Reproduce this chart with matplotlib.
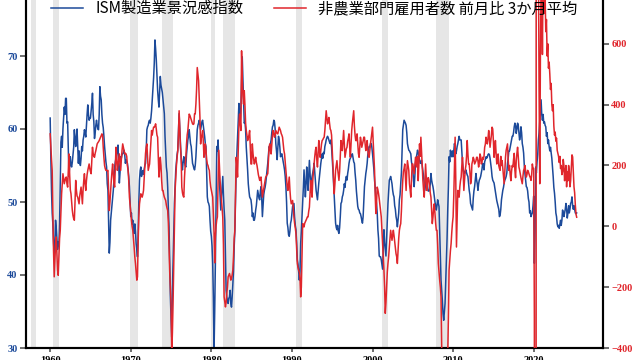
import matplotlib
matplotlib.use("Agg")
import matplotlib.pyplot as plt
import numpy as np
import pandas as pd

# ISM manufacturing PMI, monthly from 1960-01 (one row per year)
ism_rows = [
    [61.5, 56.0, 51.5, 48.5, 47.0, 44.5, 42.7, 44.0, 47.5, 46.5, 45.0, 43.5],  # 1960
    [44.5, 43.9, 47.0, 52.5, 58.2, 59.0, 57.5, 60.0, 61.5, 63.0, 62.0, 64.2],
    [64.2, 60.8, 61.0, 57.0, 53.5, 55.0, 56.2, 55.0, 54.8, 55.5, 56.5, 57.5],
    [59.9, 58.5, 57.6, 59.0, 60.0, 57.5, 55.3, 57.0, 55.5, 55.0, 56.0, 57.6],
    [57.0, 58.5, 59.0, 59.9, 59.5, 58.9, 60.5, 62.0, 63.3, 62.0, 61.2, 61.5],
    [61.5, 62.5, 63.5, 64.9, 62.0, 61.0, 58.7, 59.5, 60.5, 61.2, 60.5, 60.0],  # 1965
    [59.9, 62.0, 65.8, 64.5, 64.0, 62.0, 60.8, 60.2, 59.0, 57.6, 56.5, 55.5],
    [54.8, 52.5, 51.6, 47.0, 43.0, 44.5, 47.5, 48.5, 49.5, 50.5, 51.6, 53.0],
    [54.8, 55.5, 56.0, 56.6, 57.0, 57.8, 55.0, 52.6, 54.0, 56.2, 56.0, 56.5],
    [56.6, 56.8, 57.1, 56.5, 55.3, 55.8, 55.5, 55.3, 54.5, 53.5, 52.1, 50.0],
    [48.0, 48.5, 47.0, 47.5, 46.5, 45.7, 47.0, 46.0, 44.3, 43.5, 42.5, 45.5],  # 1970
    [50.0, 53.0, 54.3, 54.8, 53.5, 54.0, 54.3, 53.8, 54.5, 55.0, 55.3, 57.0],
    [59.9, 60.3, 60.5, 61.0, 61.2, 60.8, 61.5, 62.5, 64.0, 65.3, 67.0, 69.0],
    [72.2, 71.0, 69.5, 67.5, 65.3, 64.0, 63.0, 65.0, 67.2, 66.0, 65.5, 65.0],
    [64.0, 63.0, 62.1, 59.0, 57.0, 54.8, 54.0, 52.0, 49.0, 46.6, 42.0, 37.0],
    [34.0, 31.5, 38.0, 41.6, 46.0, 49.8, 52.0, 54.4, 55.5, 56.5, 57.1, 59.5],  # 1975
    [62.1, 60.0, 58.0, 56.2, 55.0, 54.4, 55.5, 56.2, 55.5, 55.0, 54.8, 56.5],
    [57.5, 58.5, 59.0, 59.9, 59.0, 58.0, 57.6, 56.5, 55.3, 55.0, 54.6, 54.4],
    [55.0, 56.2, 58.0, 59.9, 60.5, 60.8, 61.2, 60.5, 59.9, 60.5, 61.0, 61.2],
    [60.5, 59.9, 59.0, 58.0, 57.6, 54.0, 50.7, 50.0, 49.8, 49.4, 47.5, 46.0],
    [45.3, 44.0, 41.6, 37.0, 29.5, 35.0, 41.6, 50.0, 57.6, 57.0, 58.5, 56.0],  # 1980
    [53.0, 51.0, 48.9, 50.5, 52.0, 53.5, 51.0, 49.0, 47.5, 43.0, 37.9, 37.0],
    [36.5, 36.1, 36.8, 37.0, 37.9, 36.1, 35.6, 37.0, 38.9, 40.5, 43.9, 46.0],
    [50.0, 54.4, 56.5, 58.5, 61.0, 63.5, 62.5, 61.2, 63.0, 66.5, 69.9, 67.0],
    [64.4, 60.8, 61.0, 59.9, 57.5, 56.0, 54.4, 52.5, 51.5, 50.7, 50.5, 50.3],
    [49.5, 48.0, 48.5, 47.5, 47.5, 48.0, 48.9, 49.5, 50.5, 51.6, 51.0, 50.5],  # 1985
    [50.3, 51.5, 52.1, 50.5, 48.0, 49.5, 51.0, 51.6, 52.0, 52.6, 53.5, 54.5],
    [55.3, 56.5, 57.6, 57.5, 58.0, 58.5, 59.5, 60.3, 60.5, 61.2, 61.0, 60.0],
    [58.0, 57.0, 55.8, 57.5, 59.0, 58.5, 57.5, 56.2, 56.5, 56.6, 56.0, 55.5],
    [55.0, 54.4, 53.5, 52.1, 50.0, 47.1, 46.5, 45.5, 45.3, 46.0, 47.1, 47.5],
    [48.5, 49.4, 49.6, 49.8, 48.0, 46.8, 46.2, 44.5, 42.1, 41.5, 40.5, 39.3],  # 1990
    [40.5, 44.3, 46.0, 48.0, 49.8, 52.0, 54.4, 52.5, 50.7, 52.5, 54.8, 53.0],
    [51.6, 53.5, 55.7, 54.0, 52.1, 52.8, 53.5, 54.0, 54.5, 55.3, 54.0, 52.5],
    [51.6, 51.0, 50.3, 51.5, 52.6, 53.5, 54.5, 55.3, 56.0, 56.6, 56.0, 56.8],
    [56.6, 57.6, 58.0, 58.5, 58.8, 59.0, 58.8, 58.5, 58.2, 58.0, 58.5, 57.5],
    [56.0, 54.4, 52.5, 50.7, 48.5, 47.1, 46.5, 46.2, 46.8, 46.0, 45.7, 46.5],  # 1995
    [48.0, 49.8, 50.0, 50.7, 51.0, 51.6, 52.5, 52.0, 53.0, 53.5, 53.0, 53.9],
    [54.5, 55.3, 55.8, 56.0, 56.2, 56.5, 56.6, 56.0, 55.5, 55.3, 54.0, 53.0],
    [51.5, 50.5, 49.4, 49.0, 48.9, 48.5, 48.4, 48.0, 47.5, 47.1, 48.0, 50.0],
    [52.1, 53.0, 53.9, 54.5, 55.3, 56.5, 57.0, 57.6, 57.5, 58.0, 58.0, 57.5],
    [56.6, 55.5, 54.5, 53.0, 52.0, 50.5, 49.8, 48.5, 46.2, 45.0, 42.6, 42.5],  # 2000
    [42.5, 42.1, 41.5, 40.8, 43.5, 46.2, 44.5, 43.5, 42.6, 45.0, 47.5, 49.8],
    [51.5, 53.0, 53.2, 53.5, 53.0, 52.5, 51.6, 51.0, 50.7, 49.5, 49.0, 48.0],
    [47.5, 46.6, 47.5, 48.5, 50.3, 51.0, 52.6, 54.0, 57.0, 59.9, 60.5, 61.2],
    [61.0, 60.8, 60.5, 59.5, 58.0, 57.5, 57.1, 57.0, 56.8, 56.6, 55.5, 55.0],
    [54.4, 53.0, 52.1, 53.5, 55.3, 56.0, 56.5, 57.1, 56.8, 56.2, 55.8, 55.3],  # 2005
    [55.3, 55.7, 55.0, 54.4, 53.5, 52.5, 51.6, 52.5, 53.5, 53.0, 52.1, 51.5],
    [51.5, 51.6, 52.5, 53.9, 53.0, 52.5, 52.1, 51.5, 50.7, 50.0, 49.5, 48.9],
    [49.5, 50.3, 49.8, 49.4, 46.0, 43.0, 39.3, 38.0, 36.5, 34.7, 33.8, 35.0],
    [36.1, 39.0, 41.6, 45.0, 48.9, 52.0, 56.2, 55.5, 57.1, 56.5, 56.2, 57.0],
    [56.2, 57.0, 58.0, 57.5, 56.6, 57.0, 57.6, 58.0, 58.5, 59.0, 58.5, 58.5],  # 2010
    [58.5, 57.0, 55.3, 54.5, 54.0, 53.9, 54.2, 54.4, 54.0, 53.7, 53.5, 52.5],
    [51.6, 51.0, 49.8, 49.5, 49.2, 48.9, 50.5, 51.5, 52.1, 53.0, 53.9, 53.0],
    [52.5, 51.6, 52.5, 53.0, 53.2, 53.5, 54.0, 54.5, 55.3, 55.0, 54.4, 55.5],
    [55.8, 56.2, 56.0, 56.2, 56.5, 56.6, 56.5, 56.0, 55.3, 54.5, 53.5, 53.0],
    [52.8, 52.6, 52.0, 51.5, 50.7, 50.2, 49.8, 49.4, 49.0, 48.0, 48.2, 49.0],  # 2015
    [50.3, 51.0, 51.6, 52.0, 52.6, 53.0, 53.2, 53.5, 54.0, 55.3, 56.0, 57.0],
    [57.0, 57.5, 58.0, 58.5, 59.0, 59.0, 59.5, 60.3, 60.8, 60.5, 59.4, 60.0],
    [60.8, 60.5, 59.5, 58.5, 59.0, 60.3, 59.5, 58.0, 57.5, 56.7, 55.0, 53.9],
    [53.0, 52.1, 52.0, 51.5, 50.5, 50.0, 48.5, 48.8, 48.0, 48.3, 48.5, 49.5],
    [50.8, 41.6, 46.0, 54.8, 54.0, 55.5, 56.5, 58.5, 59.5, 61.0, 62.5, 64.0],  # 2020
    [62.0, 61.2, 62.0, 60.8, 61.0, 60.5, 60.3, 59.0, 59.5, 58.0, 58.5, 57.6],
    [57.0, 57.5, 56.7, 56.0, 54.8, 53.5, 52.0, 51.2, 50.0, 48.5, 48.0, 47.0],
    [46.6, 46.8, 46.4, 47.0, 47.5, 46.8, 47.5, 48.9, 48.5, 48.0, 48.5, 49.0],
    [49.8, 49.0, 47.8, 48.5, 49.5, 48.5, 49.0, 49.8, 50.0, 50.7, 49.5, 49.0],
    [49.5, 49.0, 48.5, 48.4, 48.5],  # 2025
]

# nonfarm payrolls, 3-month average of monthly change (thousands)
nfp_rows = [
    [304, 260, 220, 184, 40, -80, -166, -110, -60, -35, -90, -144],  # 1960
    [-161, -100, -40, -13, 50, 107, 140, 173, 155, 140, 150, 160],
    [162, 140, 129, 180, 238, 170, 120, 107, 80, 52, 35, 25],
    [20, 80, 151, 120, 100, 96, 85, 74, 100, 115, 129, 100],
    [74, 120, 150, 173, 140, 118, 150, 170, 184, 195, 205, 190],
    [180, 173, 220, 260, 240, 230, 227, 240, 249, 260, 271, 275],  # 1965
    [278, 282, 288, 293, 298, 304, 300, 260, 227, 200, 190, 184],
    [184, 182, 184, 120, 52, 80, 118, 150, 180, 205, 170, 140],
    [129, 200, 260, 230, 184, 200, 220, 238, 210, 184, 220, 250],
    [271, 260, 250, 238, 240, 238, 230, 200, 184, 150, 96, 70],
    [40, 20, 0, -13, -40, -68, -100, -122, -150, -177, -166, -50],  # 1970
    [31, 74, 90, 107, 100, 96, 105, 118, 160, 200, 240, 260],
    [271, 230, 184, 195, 205, 240, 280, 315, 300, 315, 326, 326],
    [330, 337, 320, 300, 293, 230, 162, 190, 227, 200, 150, 118],
    [118, 105, 96, 90, 85, 70, 60, 52, 10, -68, -150, -200],
    [-254, -420, -350, -250, -122, 0, 118, 160, 200, 227, 249, 300],  # 1975
    [380, 320, 260, 227, 129, 110, 100, 96, 160, 200, 227, 270],
    [300, 315, 340, 369, 365, 358, 350, 345, 337, 335, 337, 370],
    [370, 402, 450, 522, 500, 479, 420, 358, 271, 290, 300, 315],
    [280, 227, 240, 271, 250, 220, 205, 200, 190, 184, 150, 130],
    [118, 105, 96, 40, -20, -120, -35, 0, 20, 31, 150, 250],  # 1980
    [200, 150, 118, 90, 60, 30, -60, -232, -250, -265, -250, -220],
    [-200, -166, -160, -155, -165, -177, -170, -160, -144, -100, -40, -13],
    [100, 227, 200, 162, 250, 330, 369, 340, 315, 577, 480, 430],
    [402, 446, 400, 340, 315, 300, 282, 290, 300, 315, 260, 205],
    [205, 271, 240, 220, 205, 215, 227, 210, 200, 184, 170, 160],  # 1985
    [151, 160, 162, 130, 96, 110, 125, 140, 150, 162, 165, 170],
    [173, 220, 260, 271, 250, 238, 270, 300, 315, 305, 293, 300],
    [315, 310, 305, 304, 315, 326, 320, 315, 305, 300, 293, 270],
    [250, 238, 210, 184, 150, 130, 118, 140, 162, 120, 90, 74],
    [80, 85, 60, 30, 9, -5, -24, -70, -122, -135, -144, -150],  # 1990
    [-170, -232, -200, -100, 9, 5, -2, 10, 15, 20, 25, 31],
    [31, 50, 63, 110, 151, 120, 96, 150, 180, 205, 230, 250],
    [260, 220, 195, 240, 282, 250, 227, 250, 270, 282, 285, 290],
    [293, 315, 350, 380, 360, 337, 345, 358, 340, 320, 315, 300],
    [250, 205, 150, 107, 140, 184, 200, 216, 190, 170, 151, 180],  # 1995
    [230, 282, 260, 249, 280, 315, 270, 227, 240, 255, 260, 280],
    [290, 304, 260, 227, 270, 315, 340, 360, 380, 330, 300, 282],
    [282, 304, 270, 240, 227, 260, 293, 280, 260, 270, 280, 293],
    [293, 270, 249, 260, 282, 250, 230, 227, 250, 271, 290, 310],
    [326, 280, 230, 184, 100, 42, 80, 129, 120, 107, 90, 70],  # 2000
    [50, 31, -10, -57, -100, -144, -200, -286, -250, -200, -150, -122],
    [-100, -68, -40, -13, -30, -46, -30, -13, -30, -50, -68, -90],
    [-100, -122, -80, -40, -13, 0, 9, 50, 107, 150, 180, 190],
    [205, 160, 118, 180, 216, 200, 184, 140, 120, 96, 150, 205],
    [205, 190, 173, 200, 227, 210, 195, 230, 150, 200, 271, 230],  # 2005
    [293, 250, 200, 151, 120, 96, 150, 205, 160, 118, 150, 160],
    [151, 130, 110, 96, 50, 9, 30, 60, 74, 40, 10, -13],
    [-13, -60, -122, -150, -177, -200, -232, -396, -480, -560, -650, -700],
    [-750, -720, -730, -650, -420, -300, -144, -110, -80, -57, -20, 10],
    [31, 100, 200, 293, 150, -68, 20, 118, 100, 96, 130, 150],  # 2010
    [162, 200, 227, 180, 118, 150, 184, 200, 230, 282, 240, 205],
    [205, 180, 140, 150, 205, 215, 227, 220, 205, 210, 215, 227],
    [227, 215, 195, 210, 238, 230, 205, 210, 227, 220, 230, 260],
    [270, 293, 280, 271, 290, 315, 290, 260, 280, 300, 326, 320],
    [280, 227, 250, 282, 240, 205, 220, 238, 200, 190, 184, 230],  # 2015
    [200, 216, 190, 160, 140, 180, 227, 250, 260, 271, 220, 184],
    [200, 170, 150, 180, 200, 195, 220, 240, 184, 160, 216, 240],
    [260, 230, 195, 185, 172, 160, 150, 140, 165, 184, 190, 200],
    [180, 162, 170, 184, 180, 172, 165, 160, 151, 170, 205, 190],
    [190, -300, -7000, -6400, 3100, 2700, 1300, 900, 450, 140, 565, 800],  # 2020
    [820, 565, 850, 800, 700, 760, 640, 680, 560, 600, 520, 540],
    [500, 450, 470, 400, 380, 400, 330, 300, 310, 280, 290, 250],
    [240, 230, 210, 230, 190, 200, 170, 180, 220, 200, 150, 180],
    [200, 130, 180, 150, 200, 180, 130, 150, 190, 235, 228, 180],
    [130, 110, 70, 40, 30],  # 2025
]

# recession periods (start, end) in decimal years
recessions = [
    (1957.6, 1958.3), (1960.3, 1961.1), (1969.9, 1970.9), (1973.9, 1975.2),
    (1980.0, 1980.5), (1981.5, 1982.9), (1990.5, 1991.2), (2001.2, 2001.9),
    (2007.9, 2009.5), (2020.1, 2020.3),
]

ism_label = "ISM製造業景況感指数"
nfp_label = "非農業部門雇用者数 前月比 3か月平均"
year_ticks = [1960, 1970, 1980, 1990, 2000, 2010, 2020]

ism = [v for row in ism_rows for v in row]
nfp = [v for row in nfp_rows for v in row]
dates = pd.date_range("1960-01-01", periods=len(ism), freq="MS")
t = dates.year + (dates.month - 1) / 12.0

BLUE = "#1c4a9a"
RED = "#e0262c"
serif = "Liberation Serif"
cjk = ["Noto Sans CJK JP", "DejaVu Sans"]

fig = plt.figure(figsize=(6.4, 3.6), dpi=100)
# the axes run past the top of the canvas, like the cropped original
ax = fig.add_axes([26 / 640, 12 / 360, 577 / 640, 365 / 360])
ax2 = ax.twinx()

for a, b in recessions:
    ax.axvspan(a, b, color="#e6e6e6", lw=0, zorder=0)

l1, = ax.plot(t, ism, color=BLUE, lw=1.1, zorder=3)
l2, = ax2.plot(t, nfp, color=RED, lw=1.1, zorder=3)

ax.set_xlim(1957.0, 2028.6)
ax.set_ylim(30, 80)
ax2.set_ylim(-400, 800)
ax.set_yticks([30, 40, 50, 60, 70, 80])
ax2.set_yticks([-400, -200, 0, 200, 400, 600, 800])
ax.set_xticks(year_ticks)

ax.tick_params(axis="y", colors="#555555", labelcolor=BLUE, length=4, width=1.2, pad=2)
ax2.tick_params(axis="y", colors="#555555", labelcolor=RED, length=4, width=1.2, pad=2)
ax.tick_params(axis="x", colors="#555555", labelcolor="black", length=3, width=1.2, pad=3)
for lab in ax.get_yticklabels() + ax2.get_yticklabels() + ax.get_xticklabels():
    lab.set_fontfamily(serif)
    lab.set_fontweight("bold")
    lab.set_fontsize(7.5)

for a in (ax, ax2):
    for s in a.spines.values():
        s.set_linewidth(1.5)
        s.set_color("black")

ax2.legend([l1, l2], [ism_label, nfp_label], loc="center", bbox_to_anchor=(0.5, 0.93),
           ncol=2, frameon=False, handlelength=2.1, columnspacing=2.0,
           prop={"family": cjk, "size": 11})

fig.savefig("out.png", dpi=100)
